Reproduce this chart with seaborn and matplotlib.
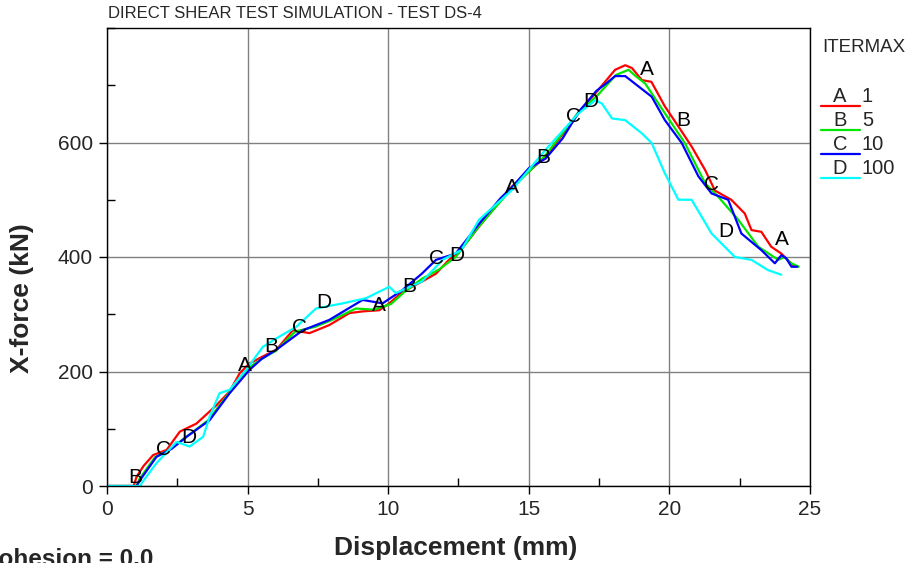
import numpy as np
import pandas as pd
import matplotlib
matplotlib.use("Agg")
import matplotlib.pyplot as plt
from matplotlib.lines import Line2D
import seaborn as sns

# ---------------- data ----------------
a_x = [0, 0.95, 1.05, 1.3, 1.64, 2.12, 2.59, 3.18, 3.89, 4.36, 4.72, 5.07, 5.53, 6.02, 6.61, 7.2, 7.9,
       8.62, 9.09, 9.68, 10.04, 10.5, 11.2, 11.7, 12.16, 12.5, 13.23, 14.4, 15.59, 16.77, 17.37, 18.07,
       18.43, 18.67, 19.02, 19.36, 19.84, 20.32, 20.79, 21.27, 21.62, 22.2, 22.68, 22.92, 23.27, 23.62,
       23.98, 24.45]
a_y = [0, 0, 16, 35, 54, 63, 95, 109, 141, 165, 197, 214, 226, 238, 272, 267, 281,
       302, 305, 307, 319, 339, 357, 371, 395, 407, 453, 523, 575, 651, 686, 727,
       735, 730, 709, 706, 663, 628, 593, 552, 516, 500, 476, 447, 444, 418,
       406, 383]

b_x = [0, 1.05, 1.15, 1.7, 2.2, 2.8, 3.6, 4.3, 5.0, 5.5, 6.0, 6.7, 7.4, 8.0, 8.85, 9.5, 10.1, 10.6,
       11.2, 11.8, 12.4, 13.2, 14.4, 15.6, 16.8, 17.4, 18.1, 18.55, 18.75, 19.14, 19.84, 20.55, 21.27,
       21.74, 22.45, 23.16, 23.87, 24.1, 24.3, 24.6]
b_y = [0, 0, 12, 50, 63, 85, 115, 160, 205, 222, 236, 270, 278, 290, 310, 308, 318, 340,
       362, 378, 400, 452, 520, 578, 655, 680, 718, 727, 718, 703, 651, 599, 529,
       505, 465, 418, 395, 400, 390, 383]

c_x = [0, 1.05, 1.17, 1.76, 2.3, 2.83, 3.65, 4.36, 5.07, 5.5, 6.02, 6.96, 7.9, 9.09, 9.8, 10.5, 11.2,
       11.7, 12.4, 13.23, 14.0, 14.4, 15.0, 15.6, 16.2, 16.8, 17.4, 17.8, 18.07, 18.43, 18.9, 19.37,
       19.84, 20.44, 21.03, 21.5, 22.09, 22.56, 23.27, 23.75, 23.98, 24.15, 24.34, 24.55]
c_y = [0, 0, 10, 51, 65, 86, 115, 162, 203, 222, 238, 272, 290, 325, 319, 342, 371,
       395, 406, 458, 503, 522, 555, 572, 607, 655, 690, 705, 716, 716, 698, 680,
       639, 599, 541, 511, 500, 441, 412, 389, 403, 398, 383, 383]

d_x = [0, 1.2, 1.23, 1.76, 2.47, 2.94, 3.42, 3.65, 4.0, 4.36, 4.95, 5.54, 6.13, 6.73, 7.43, 8.38,
       9.21, 10.04, 10.27, 10.5, 11.2, 11.93, 12.6, 13.23, 14.4, 15.59, 16.77, 17.37, 17.6, 17.96,
       18.43, 19.02, 19.37, 19.84, 20.32, 20.79, 21.5, 22.33, 22.92, 23.51, 23.98]
d_y = [0, 0, 5, 40, 77, 69, 86, 121, 162, 168, 203, 243, 261, 278, 310, 319,
       328, 348, 337, 342, 357, 395, 412, 465, 517, 587, 651, 674, 668, 642,
       639, 616, 599, 546, 500, 500, 441, 400, 395, 377, 369]

series_letters = ["A", "B", "C", "D"]
series_itermax = ["1", "5", "10", "100"]
series_colors = ["#ff0000", "#00e600", "#0000ff", "#00ffff"]

# curve label (letter) positions
lab_a_x = [4.9, 9.68, 14.4, 19.2, 24.0]
lab_a_y = [211, 316, 522, 727, 430]
lab_b_x = [1.0, 5.85, 10.74, 15.5, 20.5]
lab_b_y = [14, 243, 348, 573, 638]
lab_c_x = [2.0, 6.84, 11.7, 16.6, 21.5]
lab_c_y = [63, 276, 398, 645, 526]
lab_d_x = [2.9, 7.7, 12.45, 17.2, 22.0]
lab_d_y = [84, 321, 403, 671, 444]

x_ticks = [0, 5, 10, 15, 20, 25]
y_ticks = [0, 200, 400, 600]

# ---------------- build ----------------
frames = []
for s, xs, ys in zip(series_letters, [a_x, b_x, c_x, d_x], [a_y, b_y, c_y, d_y]):
    frames.append(pd.DataFrame({"x": xs, "y": ys, "series": s}))
df = pd.concat(frames, ignore_index=True)

sns.set_theme(style="white")
plt.rcParams["font.family"] = ["Liberation Sans", "DejaVu Sans"]

W, H = 920, 563
fig = plt.figure(figsize=(W / 100, H / 100), dpi=100)
ax = fig.add_axes([107 / W, 1 - 486 / H, (810 - 107) / W, (486 - 28) / H])

sns.lineplot(data=df, x="x", y="y", hue="series", hue_order=series_letters,
             palette=series_colors, estimator=None, sort=False, units="series",
             linewidth=1.6, ax=ax, legend=False)

labs = [(lab_a_x, lab_a_y), (lab_b_x, lab_b_y), (lab_c_x, lab_c_y), (lab_d_x, lab_d_y)]
for s, (lx, ly) in zip(series_letters, labs):
    for xx, yy in zip(lx, ly):
        ax.text(xx, yy, s, ha="center", va="center", fontsize=15, color="black", zorder=5)

ax.set_xlim(0, 25)
ax.set_ylim(0, 800)
ax.set_xticks(x_ticks)
ax.set_yticks(y_ticks)
ax.set_xticks(np.arange(0, 25.1, 2.5), minor=True)
ax.set_yticks(np.arange(0, 801, 100), minor=True)
ax.tick_params(axis="both", which="major", direction="out", length=6, width=1, color="black",
               labelsize=15, pad=4, bottom=True, left=True)
ax.tick_params(axis="both", which="minor", direction="in", length=6, width=1, color="black",
               bottom=True, left=True)
ax.grid(True, which="major", color="#808080", linewidth=1)
for sp in ax.spines.values():
    sp.set_color("black")
    sp.set_linewidth(1)
ax.set_xlabel("")
ax.set_ylabel("")

fig.text(456 / W, 1 - 548 / H, "Displacement (mm)", fontsize=19, fontweight="bold",
         ha="center", va="center")
fig.text(22 / W, 1 - 298 / H, "X-force (kN)", fontsize=19, fontweight="bold",
         ha="center", va="center", rotation=90)

fig.text(108 / W, 1 - 14 / H, "DIRECT SHEAR TEST SIMULATION - TEST DS-4",
         fontsize=12, ha="left", va="center")
fig.text(-19 / W, 1 - 566 / H, "Cohesion = 0.0", fontsize=17.5, fontweight="bold",
         ha="left", va="baseline")

# legend
fig.text(822 / W, 1 - 47 / H, "ITERMAX", fontsize=13.5, ha="left", va="center")
leg_y = [97, 121, 145, 169]
for s, v, c, py in zip(series_letters, series_itermax, series_colors, leg_y):
    fig.text(840 / W, 1 - py / H, s, fontsize=14.5, ha="center", va="center")
    fig.text(862 / W, 1 - py / H, v, fontsize=14.5, ha="left", va="center")
    yl = 1 - (py + 9) / H
    fig.add_artist(Line2D([821 / W, 860 / W], [yl, yl], color=c, linewidth=1.6,
                          transform=fig.transFigure))

fig.savefig("out.png", dpi=100)
